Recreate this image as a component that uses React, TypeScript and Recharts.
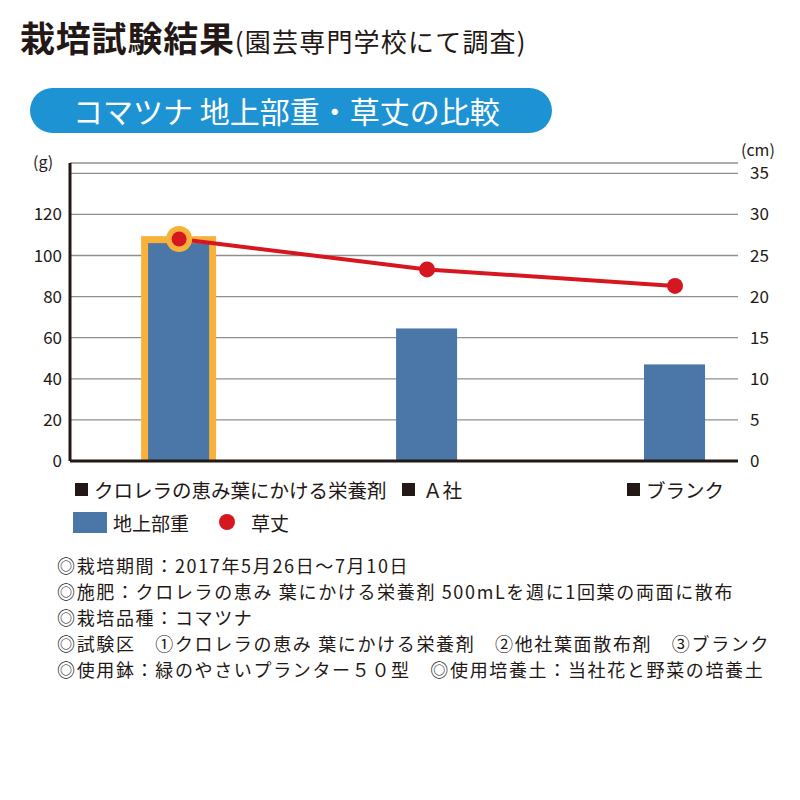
import React from 'react';
import { ComposedChart, Bar, Line, XAxis, YAxis, CartesianGrid, ReferenceLine } from 'recharts';

const categories = ['クロレラの恵み葉にかける栄養剤', 'Ａ社', 'ブランク'];
const weights = [106, 64.5, 47];
const plantHeights = [27, 23.3, 21.3];
const leftTicks = [0, 20, 40, 60, 80, 100, 120, 140];
const leftTickLabels = ['0', '20', '40', '60', '80', '100', '120', ''];
const rightTicks = [0, 5, 10, 15, 20, 25, 30, 35];
const highlightIndex = 0;
const seriesNames = ['地上部重', '草丈'];
const notes = [
  '◎栽培期間：2017年5月26日～7月10日',
  '◎施肥：クロレラの恵み 葉にかける栄養剤 500mLを週に1回葉の両面に散布',
  '◎栽培品種：コマツナ',
  '◎試験区　①クロレラの恵み 葉にかける栄養剤　②他社葉面散布剤　③ブランク',
  '◎使用鉢：緑のやさいプランター５０型　◎使用培養土：当社花と野菜の培養土',
];

const BLUE = '#4a76a8';
const ORANGE = '#f8b13a';
const RED = '#d7171f';
const INK = '#231815';
const FONT = '"Noto Sans CJK JP", "Noto Sans", sans-serif';

const data = categories.map((name, i) => ({ x: i, name, weight: weights[i], height: plantHeights[i] }));

const labelLefts = [75, 402, 627];

const BarShape = (props: any) => {
  const { x, y, width, height, index, fill } = props;
  if (index === highlightIndex) {
    return (
      <g>
        <rect x={x - 7} y={y - 7} width={width + 14} height={height + 7} fill={ORANGE} />
        <rect x={x} y={y} width={width} height={height} fill={fill} />
      </g>
    );
  }
  return <rect x={x} y={y} width={width} height={height} fill={fill} />;
};

const LineDot = (props: any) => {
  const { cx, cy, index } = props;
  if (index === highlightIndex) {
    return (
      <g key={`dot-${index}`}>
        <circle cx={cx} cy={cy} r={13} fill={ORANGE} />
        <circle cx={cx} cy={cy} r={7.5} fill={RED} />
      </g>
    );
  }
  return <circle key={`dot-${index}`} cx={cx} cy={cy} r={8} fill={RED} />;
};

export default function App() {
  return (
    <div style={{ position: 'absolute', left: 0, top: 0, width: 800, height: 800, background: '#fff', fontFamily: FONT, color: INK, overflow: 'hidden' }}>
      <div style={{ position: 'absolute', left: 20, top: 14, display: 'flex', alignItems: 'baseline', whiteSpace: 'nowrap' }}>
        <span style={{ fontSize: 35, fontWeight: 700, lineHeight: '46px', letterSpacing: 0.8 }}>栽培試験結果</span>
        <span style={{ fontSize: 26, letterSpacing: 1.2, lineHeight: '46px' }}>(園芸専門学校にて調査)</span>
      </div>
      <div style={{ position: 'absolute', left: 30, top: 88, width: 522, height: 45, borderRadius: 23, background: '#1e93d3', color: '#fff', fontSize: 30, lineHeight: '45px', paddingLeft: 43, boxSizing: 'border-box', whiteSpace: 'nowrap' }}>
        コマツナ 地上部重・草丈の比較
      </div>
      <div style={{ position: 'absolute', left: 0, top: 0 }}>
        <ComposedChart width={800} height={480} data={data} margin={{ top: 163, right: 0, bottom: 19, left: 0 }} style={{ fontFamily: FONT }}>
          <CartesianGrid yAxisId="left" horizontal vertical={false} stroke="#8f8f8f" strokeWidth={1.3} />
          <XAxis type="number" dataKey="x" domain={[-0.44, 2.254]} hide />
          <YAxis yAxisId="left" orientation="left" width={70} domain={[0, 145]} ticks={leftTicks} interval={0}
            tickFormatter={(v: number) => leftTickLabels[leftTicks.indexOf(v)] ?? ''}
            axisLine={{ stroke: INK, strokeWidth: 3 }} tickLine={false} tickSize={0} tickMargin={8}
            tick={{ fill: INK, fontSize: 17 }} />
          <YAxis yAxisId="right" orientation="right" width={62} domain={[0, 36.25]} ticks={rightTicks} interval={0}
            axisLine={false} tickLine={false} tickSize={0} tickMargin={12}
            tick={{ fill: INK, fontSize: 17, textAnchor: 'start' }} />
          <Bar yAxisId="left" dataKey="weight" name={seriesNames[0]} barSize={61} fill={BLUE} shape={BarShape} isAnimationActive={false} />
          <ReferenceLine yAxisId="left" y={0} stroke={INK} strokeWidth={3} />
          <Line yAxisId="right" dataKey="height" name={seriesNames[1]} stroke={RED} strokeWidth={4} dot={LineDot} activeDot={false} isAnimationActive={false} />
        </ComposedChart>
      </div>
      <div style={{ position: 'absolute', left: 33, top: 150, fontSize: 16, lineHeight: '22px' }}>(g)</div>
      <div style={{ position: 'absolute', left: 741, top: 138, fontSize: 16, lineHeight: '22px' }}>(cm)</div>
      {categories.map((c, i) => (
        <div key={c} style={{ position: 'absolute', left: labelLefts[i], top: 476, height: 26, display: 'flex', alignItems: 'center', whiteSpace: 'nowrap', fontSize: 19.5 }}>
          <span style={{ display: 'inline-block', width: 13, height: 13, background: INK, marginRight: i === 1 ? 8 : 6 }} />
          <span>{c}</span>
        </div>
      ))}
      <div style={{ position: 'absolute', left: 73, top: 509, height: 26, display: 'flex', alignItems: 'center', whiteSpace: 'nowrap', fontSize: 19 }}>
        <span style={{ display: 'inline-block', width: 34, height: 21, background: BLUE, marginRight: 6 }} />
        <span>{seriesNames[0]}</span>
        <span style={{ display: 'inline-block', width: 16, height: 16, borderRadius: 8, background: RED, marginLeft: 30, marginRight: 16 }} />
        <span>{seriesNames[1]}</span>
      </div>
      <div style={{ position: 'absolute', left: 57, top: 552, fontSize: 18, letterSpacing: 1.65, lineHeight: '26px', whiteSpace: 'nowrap' }}>
        {notes.map((n) => (<div key={n} style={{ height: 26 }}>{n}</div>))}
      </div>
    </div>
  );
}
